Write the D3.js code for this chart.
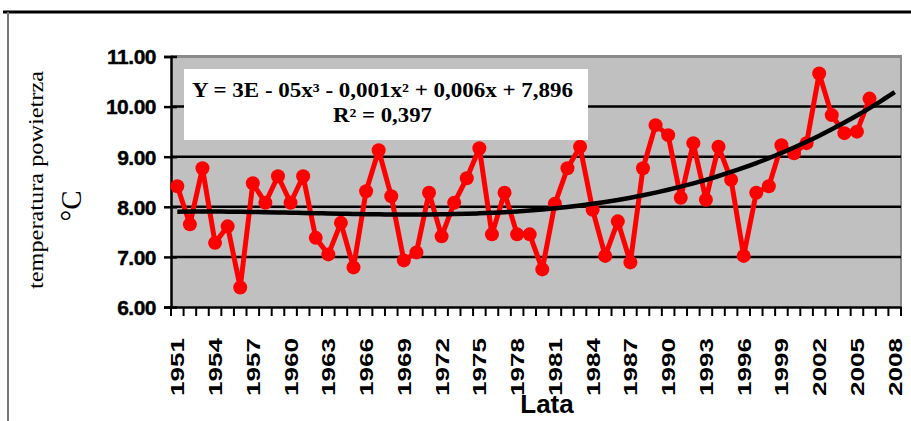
<!DOCTYPE html>
<html><head><meta charset="utf-8">
<script src="https://cdn.jsdelivr.net/npm/d3@7"></script>
<style>body{margin:0;background:#fff}svg{display:block}</style>
</head><body>
<script>
const years = d3.range(1951, 2009);
const tempYears = d3.range(1951, 2007);
const temps = [8.41,7.65,8.77,7.28,7.61,6.39,8.47,8.08,8.61,8.08,8.61,7.38,7.05,7.68,6.79,8.31,9.13,8.21,6.93,7.09,
  8.28,7.41,8.08,8.57,9.17,7.45,8.28,7.45,7.45,6.75,8.06,8.77,9.20,7.94,7.02,7.71,6.89,8.77,9.63,9.43,
  8.18,9.27,8.14,9.20,8.54,7.02,8.28,8.41,9.23,9.07,9.27,10.66,9.83,9.47,9.50,10.16];
const yTicks = [6,7,8,9,10,11];
const yTickLabels = ["6.00","7.00","8.00","9.00","10.00","11.00"];
const xLabelYears = d3.range(1951, 2009, 3);
const equation = "Y = 3E - 05x³ - 0,001x² + 0,006x + 7,896";
const r2 = "R² = 0,397";

const W = 911, H = 421;
const svg = d3.select("body").append("svg").attr("width", W).attr("height", H);
const L = 171, R = 901, T = 56.5, B = 307;
const x = d3.scaleBand().domain(years).range([L, R]);
const y = d3.scaleLinear().domain([6, 11]).range([B, T]);
const cx = v => x(v) + x.bandwidth() / 2;
const sans = "'Liberation Sans', Arial, sans-serif";
const serif = "'Liberation Serif', 'Times New Roman', serif";

// outer frame
svg.append("line").attr("x1", 3).attr("x2", W).attr("y1", 12).attr("y2", 12).attr("stroke", "#000").attr("stroke-width", 3);
svg.append("line").attr("x1", 8).attr("x2", 8).attr("y1", 12).attr("y2", H).attr("stroke", "#777").attr("stroke-width", 2);

// plot background
svg.append("rect").attr("x", L).attr("y", T).attr("width", R - L).attr("height", B - T).attr("fill", "#c0c0c0");
svg.append("line").attr("x1", L).attr("x2", R + 1).attr("y1", T).attr("y2", T).attr("stroke", "#8a8a8a").attr("stroke-width", 3);
svg.append("line").attr("x1", R).attr("x2", R).attr("y1", T).attr("y2", B).attr("stroke", "#8a8a8a").attr("stroke-width", 2);

// gridlines
svg.append("g").selectAll("line").data(yTicks.filter(t => t > 6 && t < 11)).join("line")
  .attr("x1", L).attr("x2", R).attr("y1", d => y(d)).attr("y2", d => y(d))
  .attr("stroke", "#000").attr("stroke-width", 2.5);

// y axis
const ya = svg.append("g").attr("transform", `translate(${L},0)`)
  .call(d3.axisLeft(y).tickValues(yTicks).tickSize(7).tickFormat((d, i) => yTickLabels[i]));
ya.select(".domain").attr("stroke", "#000").attr("stroke-width", 2.5);
ya.selectAll(".tick line").attr("stroke", "#000").attr("stroke-width", 2.5).attr("x2", -7).attr("x1", 6);
ya.selectAll(".tick text").attr("x", -15).attr("dy", "0.35em").attr("font-family", sans).attr("font-weight", "bold")
  .attr("font-size", 21).attr("fill", "#000").attr("stroke", "#000").attr("stroke-width", 0.4).attr("letter-spacing", "-0.5px");

// x axis
const xa = svg.append("g").attr("transform", `translate(0,${B})`)
  .call(d3.axisBottom(x).tickValues([]).tickSize(0));
xa.select(".domain").attr("stroke", "#000").attr("stroke-width", 2.5);
svg.append("g").selectAll("line").data(years.concat([null])).join("line")
  .attr("x1", (d, i) => L + i * x.step()).attr("x2", (d, i) => L + i * x.step())
  .attr("y1", B).attr("y2", B + 9).attr("stroke", "#000").attr("stroke-width", 2);
svg.append("g").selectAll("text").data(xLabelYears).join("text")
  .attr("transform", d => `translate(${cx(d) + 7},338) rotate(-90)`)
  .attr("text-anchor", "end").attr("font-family", sans).attr("font-weight", "bold").attr("font-size", 19)
  .attr("textLength", 58).attr("lengthAdjust", "spacingAndGlyphs").text(d => d);

// axis titles
svg.append("text").attr("transform", "translate(43,180) rotate(-90)").attr("text-anchor", "middle")
  .attr("font-family", serif).attr("font-size", 20).attr("textLength", 218).attr("lengthAdjust", "spacingAndGlyphs")
  .text("temperatura powietrza");
svg.append("text").attr("transform", "translate(81,206) rotate(-90)").attr("text-anchor", "middle")
  .attr("font-family", serif).attr("font-size", 29).text("°C");
svg.append("text").attr("x", 547).attr("y", 413).attr("text-anchor", "middle")
  .attr("font-family", sans).attr("font-weight", "bold").attr("font-size", 26).text("Lata");

// data line
const line = d3.line().x((d, i) => cx(tempYears[i])).y(d => y(d));
svg.append("path").datum(temps).attr("d", line).attr("fill", "none").attr("stroke", "#ff0000")
  .attr("stroke-width", 5).attr("stroke-linejoin", "round");
svg.append("g").selectAll("circle").data(temps).join("circle")
  .attr("cx", (d, i) => cx(tempYears[i])).attr("cy", d => y(d)).attr("r", 7).attr("fill", "#ff0000");

// cubic trend (least squares fit of the data, x = 1..n)
function cubicFit(vals) {
  const n = 4, A = Array.from({length: n}, () => new Array(n + 1).fill(0));
  vals.forEach((v, i) => {
    const t = i + 1, p = [1, t, t * t, t * t * t];
    for (let r = 0; r < n; r++) { for (let c = 0; c < n; c++) A[r][c] += p[r] * p[c]; A[r][n] += p[r] * v; }
  });
  for (let c = 0; c < n; c++) {
    let m = c; for (let r = c + 1; r < n; r++) if (Math.abs(A[r][c]) > Math.abs(A[m][c])) m = r;
    [A[c], A[m]] = [A[m], A[c]];
    for (let r = 0; r < n; r++) if (r !== c) { const f = A[r][c] / A[c][c]; for (let k = c; k <= n; k++) A[r][k] -= f * A[c][k]; }
  }
  return A.map((row, i) => row[n] / row[i]);
}
const coef = cubicFit(temps);
const trend = years.map((yr, i) => { const t = i + 1; return coef[0] + coef[1] * t + coef[2] * t * t + coef[3] * t * t * t; });
svg.append("path").datum(trend)
  .attr("d", d3.line().x((d, i) => cx(years[i])).y(d => y(d)).curve(d3.curveMonotoneX))
  .attr("fill", "none").attr("stroke", "#000").attr("stroke-width", 4.5);

// equation box
svg.append("rect").attr("x", 184).attr("y", 69).attr("width", 404).attr("height", 71).attr("fill", "#fff");
svg.append("text").attr("x", 192).attr("y", 97).attr("font-family", serif).attr("font-weight", "bold")
  .attr("font-size", 20).attr("textLength", 381).attr("lengthAdjust", "spacingAndGlyphs").text(equation);
svg.append("text").attr("x", 333).attr("y", 122).attr("font-family", serif).attr("font-weight", "bold")
  .attr("font-size", 20).attr("textLength", 99).attr("lengthAdjust", "spacingAndGlyphs").text(r2);
</script>
</body></html>
